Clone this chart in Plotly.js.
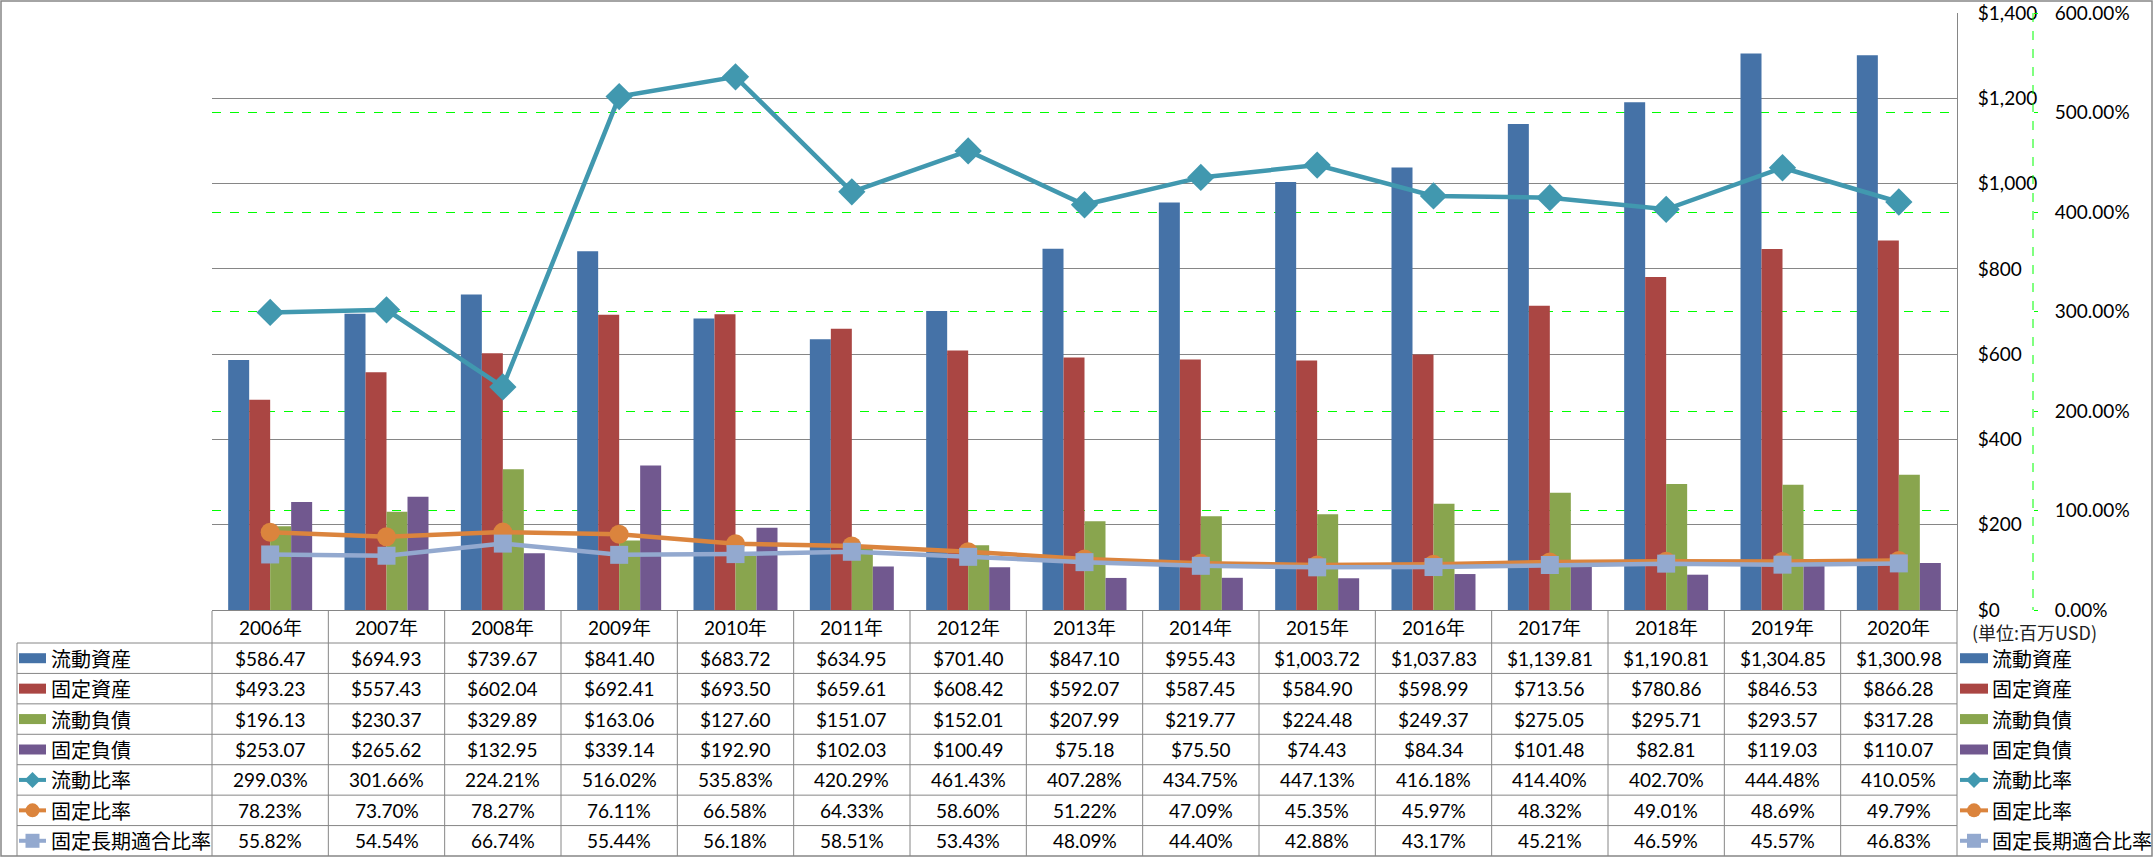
<!DOCTYPE html>
<html>
<head>
<meta charset="utf-8">
<script src="https://cdn.plot.ly/plotly-3.0.1.min.js"></script>
<style>html,body{margin:0;padding:0;background:#fff;}#chart{width:2156px;height:858px;}</style>
</head>
<body>
<div id="chart"></div>
<script>
// ---- data ----
const years = ['2006年','2007年','2008年','2009年','2010年','2011年','2012年','2013年','2014年','2015年','2016年','2017年','2018年','2019年','2020年'];
const currentAssets = [586.47, 694.93, 739.67, 841.40, 683.72, 634.95, 701.40, 847.10, 955.43, 1003.72, 1037.83, 1139.81, 1190.81, 1304.85, 1300.98];
const fixedAssets = [493.23, 557.43, 602.04, 692.41, 693.50, 659.61, 608.42, 592.07, 587.45, 584.90, 598.99, 713.56, 780.86, 846.53, 866.28];
const currentLiabilities = [196.13, 230.37, 329.89, 163.06, 127.60, 151.07, 152.01, 207.99, 219.77, 224.48, 249.37, 275.05, 295.71, 293.57, 317.28];
const fixedLiabilities = [253.07, 265.62, 132.95, 339.14, 192.90, 102.03, 100.49, 75.18, 75.50, 74.43, 84.34, 101.48, 82.81, 119.03, 110.07];
const currentRatio = [299.03, 301.66, 224.21, 516.02, 535.83, 420.29, 461.43, 407.28, 434.75, 447.13, 416.18, 414.40, 402.70, 444.48, 410.05];
const fixedRatio = [78.23, 73.70, 78.27, 76.11, 66.58, 64.33, 58.60, 51.22, 47.09, 45.35, 45.97, 48.32, 49.01, 48.69, 49.79];
const fixedLongTermRatio = [55.82, 54.54, 66.74, 55.44, 56.18, 58.51, 53.43, 48.09, 44.40, 42.88, 43.17, 45.21, 46.59, 45.57, 46.83];

const seriesNames = ['流動資産','固定資産','流動負債','固定負債','流動比率','固定比率','固定長期適合比率'];
const unitLabel = '(単位:百万USD)';

// ---- styling ----
const colors = ['#4572A7','#AA4643','#89A54E','#71588F','#4198AF','#DB843D','#93A9CF'];
const gridGray = '#868686';
const FONT = 'Lato, "Noto Sans CJK JP", sans-serif';
const JFONT = '"Noto Sans CJK JP", sans-serif';

// ---- geometry (pixels) ----
const W = 2156, H = 858;
const L = 212, R = 2033, T = 13, B = 610;
const plotRight = 1957;
const pw = R - L, ph = B - T;
const fx = p => (p - L) / pw;
const fy = p => (B - p) / ph;
const nCat = years.length;
const colW = (plotRight - L) / nCat;
const colX = k => L + k * colW;
const headerTop = 611, headerBottom = 643, tableBottom = 856;
const rowH = (tableBottom - headerBottom) / 7;
const rowTop = i => headerBottom + i * rowH;
const rowC = i => headerBottom + (i + 0.5) * rowH;

// ---- traces ----
const barWidth = 0.1805;              // fraction of a category
const barSeries = [currentAssets, fixedAssets, currentLiabilities, fixedLiabilities];
const traces = [];
barSeries.forEach((vals, i) => {
  traces.push({type:'bar', x: years, y: vals, name: seriesNames[i], marker:{color: colors[i], line:{width:0}},
    width: barWidth, offset: (i - 2) * barWidth, yaxis:'y', xaxis:'x', hoverinfo:'skip'});
});
traces.push({type:'scatter', mode:'lines+markers', x: years, y: currentRatio, name: seriesNames[4], yaxis:'y2',
  line:{color: colors[4], width:4.5}, marker:{symbol:'diamond', size:21, color: colors[4]}, hoverinfo:'skip'});
traces.push({type:'scatter', mode:'lines+markers', x: years, y: fixedRatio, name: seriesNames[5], yaxis:'y2',
  line:{color: colors[5], width:4.5}, marker:{symbol:'circle', size:19, color: colors[5]}, hoverinfo:'skip'});
traces.push({type:'scatter', mode:'lines+markers', x: years, y: fixedLongTermRatio, name: seriesNames[6], yaxis:'y2',
  line:{color: colors[6], width:4.5}, marker:{symbol:'square', size:18, color: colors[6]}, hoverinfo:'skip'});

// ---- table text ----
const fmtMoney = v => '$' + v.toLocaleString('en-US', {minimumFractionDigits:2, maximumFractionDigits:2});
const fmtPct = v => v.toFixed(2) + '%';
const tableRows = [
  currentAssets.map(fmtMoney), fixedAssets.map(fmtMoney), currentLiabilities.map(fmtMoney), fixedLiabilities.map(fmtMoney),
  currentRatio.map(fmtPct), fixedRatio.map(fmtPct), fixedLongTermRatio.map(fmtPct)
];

const annotations = [];
const shapes = [];
const ann = (px, py, text, opts) => Object.assign({xref:'paper', yref:'paper', x: fx(px), y: fy(py), text: text,
  showarrow:false, xanchor:'center', yanchor:'middle', font:{family: FONT, size:19, color:'#000'}}, opts || {});

years.forEach((y, k) => annotations.push(ann(colX(k) + colW/2, (headerTop + headerBottom)/2, y)));
tableRows.forEach((row, i) => row.forEach((t, k) => annotations.push(ann(colX(k) + colW/2, rowC(i), t))));
seriesNames.forEach((n, i) => {
  annotations.push(ann(49, rowC(i), n, {xanchor:'left', font:{family: JFONT, size:20, color:'#000'}}));
  annotations.push(ann(1990, rowC(i), n, {xanchor:'left', font:{family: JFONT, size:20, color:'#000'}}));
});
annotations.push(ann(1970, 632, unitLabel, {xanchor:'left', font:{family: JFONT, size:18, color:'#222'}}));

// ---- lines of the table ----
const line = (x0, y0, x1, y1, color, width, dash) => ({type:'line', xref:'paper', yref:'paper',
  x0: fx(x0), y0: fy(y0), x1: fx(x1), y1: fy(y1), line:{color: color, width: width, dash: dash || 'solid'}, layer:'above'});
for (let i = 0; i < 7; i++) shapes.push(line(17, rowTop(i), plotRight, rowTop(i), gridGray, 1));
shapes.push(line(17, headerBottom, 17, tableBottom, gridGray, 1));
for (let k = 0; k < nCat; k++) shapes.push(line(colX(k), headerTop, colX(k), tableBottom, gridGray, 1));
shapes.push(line(plotRight, B, plotRight, tableBottom, gridGray, 1));
// secondary axis dashed line
shapes.push(line(R, T, R, B, '#00FF00', 1, 'dash'));
// outer border
shapes.push({type:'rect', xref:'paper', yref:'paper', x0: fx(1), y0: fy(1), x1: fx(2152), y1: fy(856),
  line:{color: gridGray, width: 1.5}, fillcolor:'rgba(0,0,0,0)', layer:'above'});

// ---- legend symbols (table left column and right legend) ----
function legendSymbol(x0, x1, cy, i) {
  if (i < 4) {
    shapes.push({type:'rect', xref:'paper', yref:'paper', x0: fx(x0), x1: fx(x1), y0: fy(cy + 5), y1: fy(cy - 5),
      line:{width:0}, fillcolor: colors[i], layer:'above'});
  } else {
    shapes.push(line(x0, cy, x1, cy, colors[i], 4));
    const cx = (x0 + x1) / 2;
    if (i === 4) {
      const r = 8;
      const p = `M ${fx(cx - r)} ${fy(cy)} L ${fx(cx)} ${fy(cy - r)} L ${fx(cx + r)} ${fy(cy)} L ${fx(cx)} ${fy(cy + r)} Z`;
      shapes.push({type:'path', xref:'paper', yref:'paper', path: p, fillcolor: colors[i], line:{width:0}, layer:'above'});
    } else if (i === 5) {
      const r = 7;
      shapes.push({type:'circle', xref:'paper', yref:'paper', x0: fx(cx - r), x1: fx(cx + r), y0: fy(cy + r), y1: fy(cy - r),
        fillcolor: colors[i], line:{width:0}, layer:'above'});
    } else {
      const r = 7;
      shapes.push({type:'rect', xref:'paper', yref:'paper', x0: fx(cx - r), x1: fx(cx + r), y0: fy(cy + r), y1: fy(cy - r),
        fillcolor: colors[i], line:{width:0}, layer:'above'});
    }
  }
}
seriesNames.forEach((n, i) => {
  legendSymbol(19, 46, rowC(i), i);
  legendSymbol(1960, 1988, rowC(i), i);
});

const layout = {
  width: W, height: H,
  margin: {l: L, r: W - R, t: T, b: H - B, pad: 0},
  paper_bgcolor: '#fff', plot_bgcolor: '#fff',
  showlegend: false,
  barmode: 'overlay',
  font: {family: FONT, size: 19, color: '#000'},
  xaxis: {type:'category', domain:[0, (plotRight - L) / pw], range:[-0.5, nCat - 0.5], autorange:false,
    showticklabels:false, ticks:'',
    showline:true, linecolor: gridGray, linewidth:1, showgrid:false, zeroline:false, fixedrange:true},
  yaxis: {side:'right', range:[0, 1400], dtick:200, tickprefix:'$', tickformat:',d',
    showline:true, linecolor: gridGray, linewidth:1, showgrid:true, gridcolor: gridGray, gridwidth:1,
    zeroline:false, ticks:'', ticklabelstandoff:16, tickfont:{family: FONT, size:19, color:'#000'}, fixedrange:true},
  yaxis2: {overlaying:'y', side:'right', anchor:'free', position:1, range:[0, 600], dtick:100,
    tickformat:'.2f', ticksuffix:'%', showgrid:true, gridcolor:'#00FF00', griddash:'dash', gridwidth:1,
    zeroline:false, showline:false, ticks:'outside', ticklen:4, tickcolor:'#00FF00', tickwidth:1,
    ticklabelstandoff:13, tickfont:{family: FONT, size:19, color:'#000'}, fixedrange:true},
  annotations: annotations,
  shapes: shapes
};

Plotly.newPlot('chart', traces, layout, {staticPlot:true, displayModeBar:false});
</script>
</body>
</html>
